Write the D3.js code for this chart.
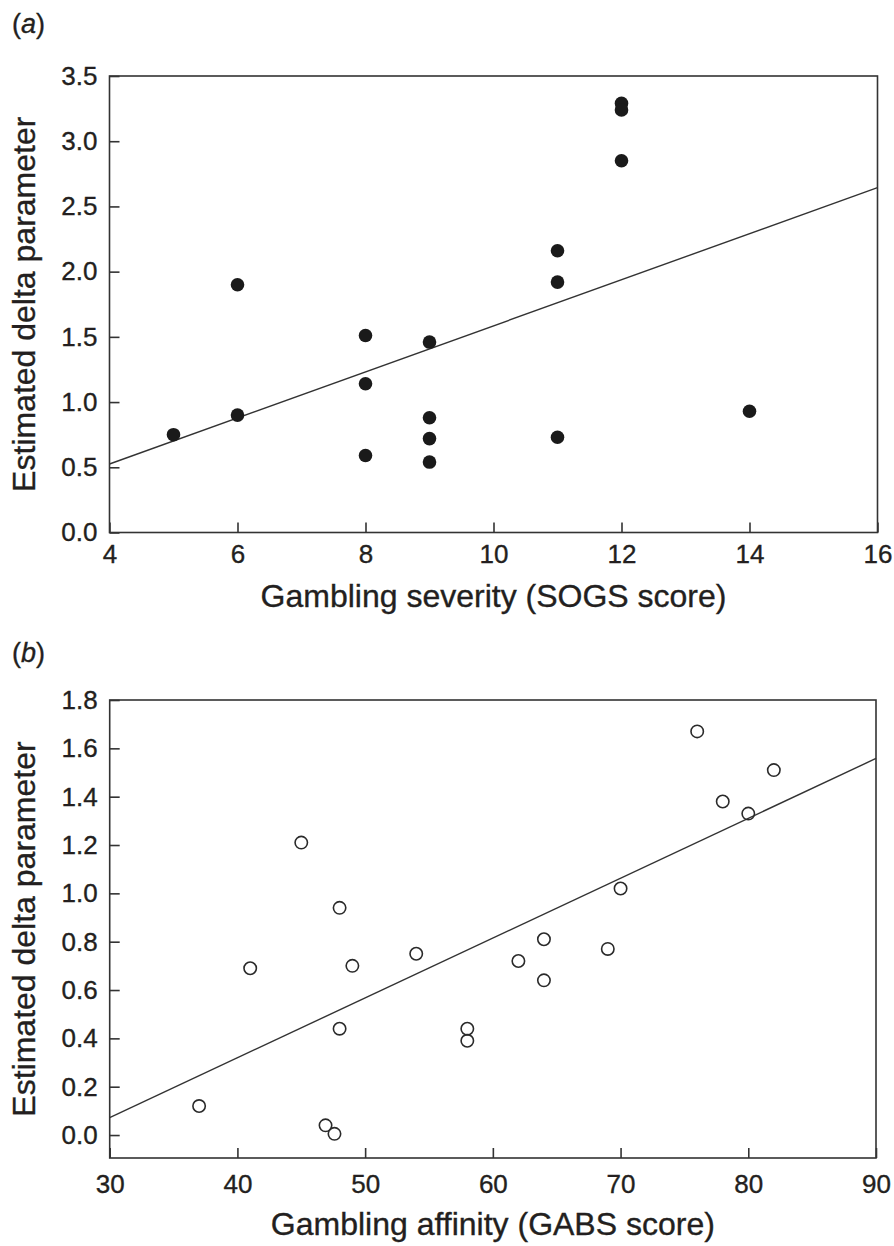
<!DOCTYPE html>
<html>
<head>
<meta charset="utf-8">
<script src="https://cdn.jsdelivr.net/npm/d3@7"></script>
<style>
  html, body { margin: 0; padding: 0; background: #fff; }
  svg text { font-family: "Liberation Sans", Arial, Helvetica, sans-serif; fill: #231f20;
             stroke: #231f20; stroke-width: 0.35px; }
</style>
</head>
<body>
<svg id="chart" width="894" height="1246"></svg>
<script>
// Panel (a): gambling severity vs estimated delta
const sogsScore = [5, 6, 6, 8, 8, 8, 9, 9, 9, 9, 11, 11, 11, 12, 12, 12, 14];
const deltaA    = [0.75, 1.90, 0.90, 1.51, 1.14, 0.59, 1.46, 0.88, 0.72, 0.54, 2.16, 1.92, 0.73, 3.29, 3.24, 2.85, 0.93];
const fitA      = { intercept: 0.525 - 4 * 0.1766, slope: 0.1766 };
const xTicksA   = [4, 6, 8, 10, 12, 14, 16];
const yTicksA   = [0.0, 0.5, 1.0, 1.5, 2.0, 2.5, 3.0, 3.5];

// Panel (b): gambling affinity vs estimated delta
const gabsScore = [37, 41, 45, 46.9, 47.6, 48, 48, 49, 54, 58, 58, 62, 64, 64, 69, 70, 76, 78, 80, 82];
const deltaB    = [0.12, 0.69, 1.21, 0.04, 0.005, 0.44, 0.94, 0.70, 0.75, 0.44, 0.39, 0.72, 0.81, 0.64, 0.77, 1.02, 1.67, 1.38, 1.33, 1.51];
const fitB      = { intercept: 0.072 - 30 * 0.02477, slope: 0.02477 };
const xTicksB   = [30, 40, 50, 60, 70, 80, 90];
const yTicksB   = [0.0, 0.2, 0.4, 0.6, 0.8, 1.0, 1.2, 1.4, 1.6, 1.8];

const svg = d3.select("#chart");
const ink = "#333";

function drawPanel(p) {
  const g = svg.append("g");
  const x = d3.scaleLinear().domain(p.xDomain).range([p.left, p.right]);
  const y = d3.scaleLinear().domain(p.yDomain).range([p.bottom, p.top]);

  // frame
  g.append("rect")
    .attr("x", p.left).attr("y", p.top)
    .attr("width", p.right - p.left).attr("height", p.bottom - p.top)
    .attr("fill", "none").attr("stroke", ink).attr("stroke-width", 1.6);

  // axes with inward ticks
  const ax = g.append("g").attr("transform", `translate(0,${p.bottom})`)
    .call(d3.axisBottom(x).tickValues(p.xTicks).tickSize(-10).tickPadding(p.xPad)
      .tickFormat(d3.format("d")));
  const ay = g.append("g").attr("transform", `translate(${p.left},0)`)
    .call(d3.axisLeft(y).tickValues(p.yTicks).tickSize(-10).tickPadding(12)
      .tickFormat(d3.format(".1f")));
  [ax, ay].forEach(a => {
    a.select(".domain").remove();
    a.selectAll(".tick line").attr("stroke", ink).attr("stroke-width", 1.6);
    a.selectAll(".tick text").attr("font-size", 26).attr("fill", "#231f20")
      .style("font-family", "'Liberation Sans', Arial, sans-serif");
  });

  // fitted regression line across the x range
  const [x0, x1] = p.xDomain;
  g.append("line")
    .attr("x1", x(x0)).attr("y1", y(p.fit.intercept + p.fit.slope * x0))
    .attr("x2", x(x1)).attr("y2", y(p.fit.intercept + p.fit.slope * x1))
    .attr("stroke", ink).attr("stroke-width", 1.4);

  // data points
  const pts = p.xs.map((v, i) => ({ x: v, y: p.ys[i] }));
  g.selectAll("circle.pt").data(pts).enter().append("circle")
    .attr("class", "pt")
    .attr("cx", d => x(d.x)).attr("cy", d => y(d.y))
    .attr("r", p.filled ? 6.8 : 6.2)
    .attr("fill", p.filled ? "#1a1a1a" : "none")
    .attr("stroke", "#2a2a2a")
    .attr("stroke-width", p.filled ? 0 : 1.6);

  // axis titles
  g.append("text")
    .attr("x", (p.left + p.right) / 2).attr("y", p.xTitleY)
    .attr("text-anchor", "middle").attr("font-size", 32)
    .text(p.xTitle);
  g.append("text")
    .attr("transform", `translate(35,${(p.top + p.bottom) / 2}) rotate(-90)`)
    .attr("text-anchor", "middle").attr("font-size", 32)
    .text("Estimated delta parameter");

  // panel letter
  const lab = g.append("text").attr("x", 12).attr("y", p.labelY).attr("font-size", 27);
  lab.append("tspan").text("(");
  lab.append("tspan").attr("font-style", "italic").text(p.letter);
  lab.append("tspan").text(")");
}

drawPanel({
  letter: "a", labelY: 33,
  xs: sogsScore, ys: deltaA, fit: fitA, filled: true,
  xDomain: [4, 16], yDomain: [0, 3.5],
  xTicks: xTicksA, yTicks: yTicksA, xPad: 12,
  left: 109.5, right: 877.5, top: 76, bottom: 532.5,
  xTitle: "Gambling severity (SOGS score)", xTitleY: 607
});

drawPanel({
  letter: "b", labelY: 662,
  xs: gabsScore, ys: deltaB, fit: fitB, filled: false,
  xDomain: [30, 90], yDomain: [-0.095, 1.8],
  xTicks: xTicksB, yTicks: yTicksB, xPad: 17,
  left: 109.7, right: 876, top: 700, bottom: 1158,
  xTitle: "Gambling affinity (GABS score)", xTitleY: 1235
});
</script>
</body>
</html>
